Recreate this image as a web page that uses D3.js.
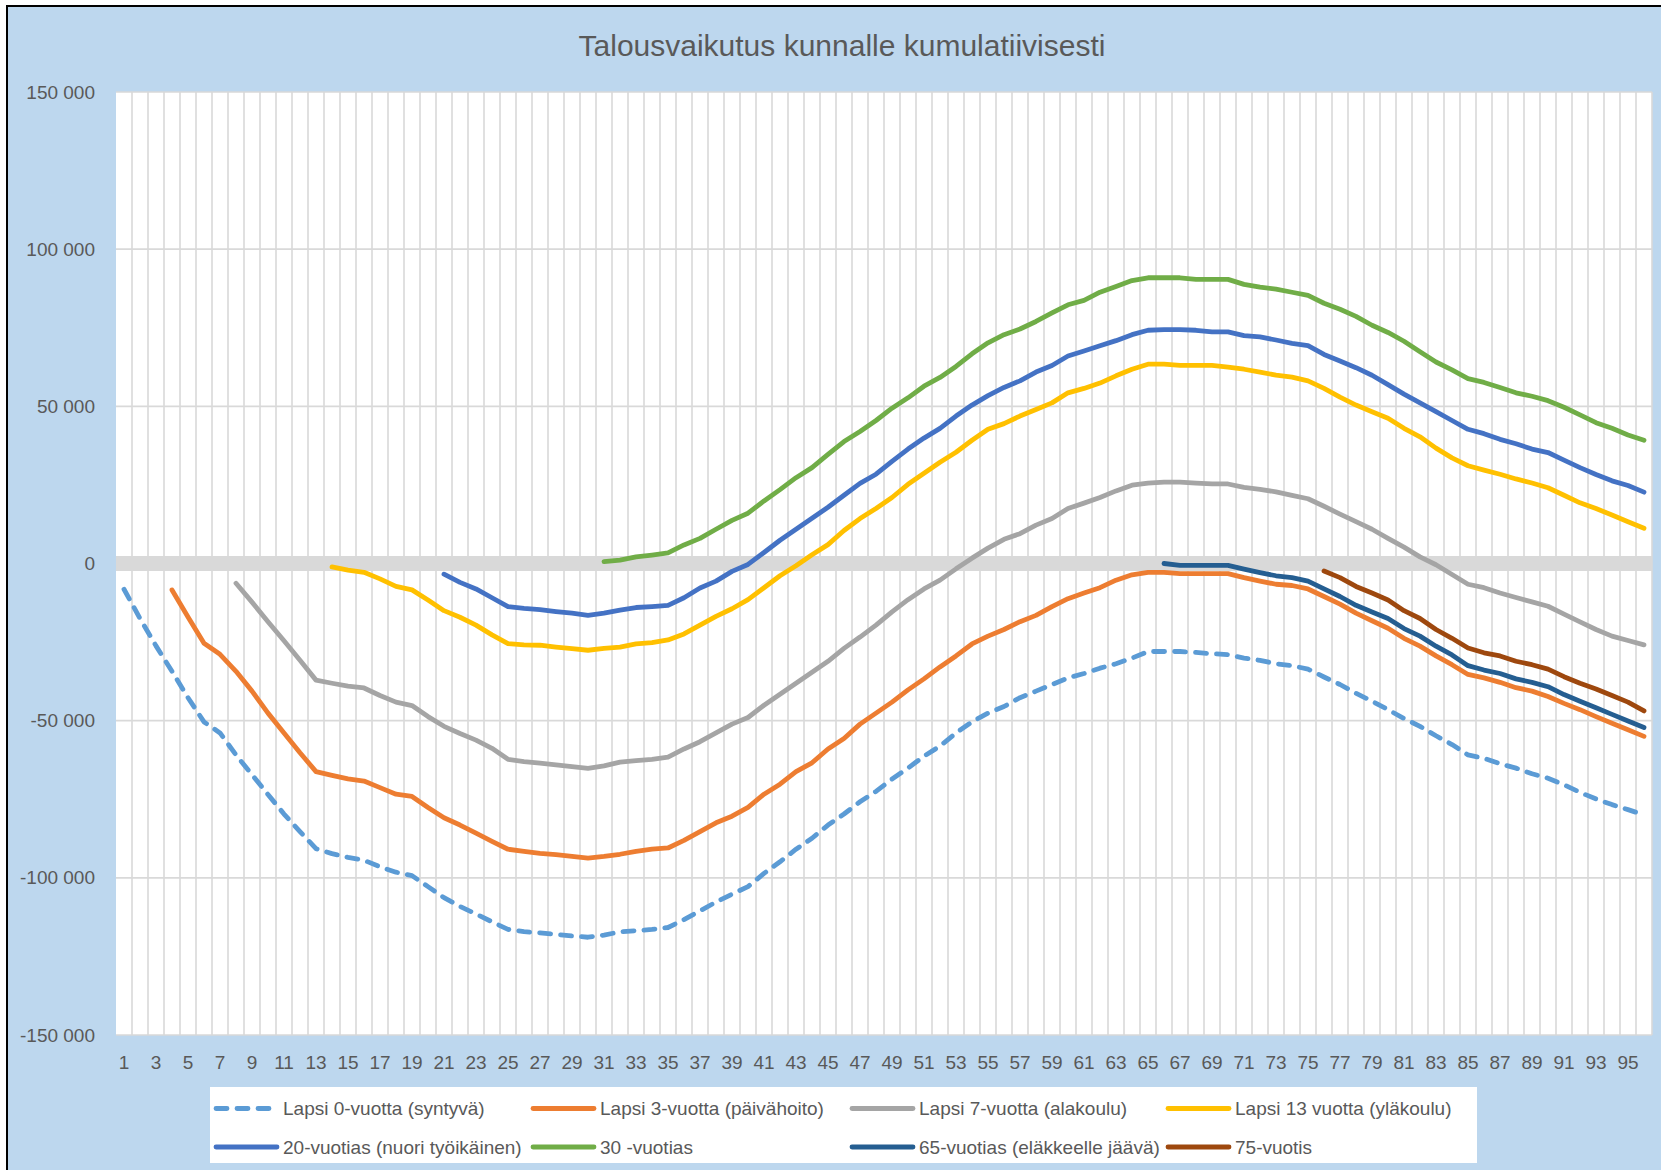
<!DOCTYPE html>
<html><head><meta charset="utf-8">
<script src="https://cdn.jsdelivr.net/npm/d3@7"></script>
<style>
body{margin:0;background:#fff}
svg{display:block}
text{font-family:"Liberation Sans",Arial,sans-serif}
</style>
</head><body>
<svg id="chart" width="1661" height="1170"></svg>
<script>
// ---------- DATA ----------
const chartTitle = "Talousvaikutus kunnalle kumulatiivisesti";
const ages = d3.range(1, 97);                 // categories 1..96
const xTickLabels = d3.range(1, 97, 2);       // 1,3,...,95
const yTicks = [-150000, -100000, -50000, 0, 50000, 100000, 150000];

const seriesNames = [
  "Lapsi 0-vuotta (syntyvä)", "Lapsi 3-vuotta (päivähoito)", "Lapsi 7-vuotta (alakoulu)", "Lapsi 13 vuotta (yläkoulu)",
  "20-vuotias (nuori työikäinen)", "30 -vuotias", "65-vuotias (eläkkeelle jäävä)", "75-vuotis"
];
const seriesColors = ["#5B9BD5", "#ED7D31", "#A5A5A5", "#FFC000", "#4472C4", "#70AD47", "#255E91", "#9E480E"];
const seriesStarts = [1, 4, 8, 14, 21, 31, 66, 76];   // first age of each series

const lapsi0 = [-8200,-17500,-26200,-34300,-42700,-50400,-53900,-60900,-67200,-73500,-79700,-85300,-90700,-92300,-93500,-94400,-96500,-98200,-99300,-102800,
  -106300,-109100,-111500,-114000,-116400,-117100,-117500,-118000,-118500,-118900,-118200,-117200,-116800,-116400,-115800,-113300,-110500,-107700,-105200,-102800,
  -98600,-94900,-90900,-87400,-83200,-79700,-75800,-72500,-68600,-65100,-61300,-58100,-53900,-50400,-47600,-45500,-42700,-40600,-38500,-36400,
  -35000,-33300,-31900,-30100,-28000,-28000,-28000,-28300,-28700,-29000,-30100,-30800,-31900,-32500,-33600,-36100,-38500,-41300,-43800,-46500,
  -49300,-51800,-54800,-57600,-60900,-62000,-63700,-65100,-66900,-68300,-70400,-72800,-74900,-76700,-78300,-80000];
const lapsi3 = [-8400,-17000,-25400,-28900,-34300,-40600,-47600,-53900,-60200,-66200,-67400,-68500,-69200,-71300,-73400,-74100,-77600,
  -80900,-83200,-85800,-88400,-90900,-91600,-92200,-92600,-93200,-93700,-93200,-92500,-91600,-90900,-90500,-88100,-85300,-82500,-80400,-77600,
  -73400,-70200,-66200,-63400,-59000,-55700,-51100,-47600,-44100,-40200,-36700,-32900,-29400,-25600,-23100,-21000,-18500,-16500,-13700,-11200,
  -9400,-7700,-5300,-3600,-2800,-2800,-3200,-3200,-3200,-3200,-4500,-5600,-6600,-7000,-8100,-10500,-12900,-15800,-18200,-20600,
  -23800,-26300,-29400,-32200,-35300,-36400,-37800,-39500,-40600,-42300,-44500,-46500,-48700,-50800,-52900,-55000];
const lapsi7 = [-6300,-12300,-18500,-24600,-30800,-37100,-38100,-39000,-39600,-42000,-44100,-45200,-48700,
  -51800,-54100,-56200,-58800,-62300,-63000,-63500,-64100,-64600,-65200,-64400,-63200,-62700,-62300,-61600,-59000,-56700,-53900,-51100,-49000,
  -45100,-41600,-38100,-34600,-31100,-27000,-23400,-19600,-15400,-11500,-8100,-5300,-1700,1700,4900,7700,9500,12200,14300,17500,
  19200,21000,23100,24900,25600,25900,25900,25600,25300,25300,24200,23600,22800,21700,20600,18200,15700,13300,10900,8000,
  5200,2100,-400,-3500,-6600,-7700,-9400,-10800,-12200,-13600,-16100,-18600,-21000,-23100,-24500,-25900];
const lapsi13 = [-1100,-2100,-2800,-4900,-7300,-8400,-11600,
  -15000,-17100,-19600,-22700,-25500,-25900,-26000,-26600,-27100,-27600,-27000,-26600,-25600,-25200,-24300,-22400,-19600,-16800,-14400,-11500,
  -7700,-3900,-700,2800,6000,10500,14300,17500,21000,25200,28700,32200,35400,39200,42700,44500,46900,49000,51100,54300,
  55700,57400,59700,61800,63400,63400,63000,63000,63000,62500,61800,60900,59900,59300,58100,55700,52900,50400,48300,46200,
  43000,40300,36700,33600,31100,29700,28400,26900,25600,24100,21700,19300,17500,15400,13300,11200];
const tyo20 = [-3400,-6000,-8100,-10900,-13700,-14300,-14700,-15300,-15800,-16500,-15800,-14800,-14000,-13700,-13300,-10900,-7800,-5600,-2500,-300,
  3500,7400,10900,14400,17900,21700,25500,28400,32500,36400,39900,43000,46900,50400,53400,56000,58100,60900,63000,66000,
  67600,69300,70900,72800,74200,74400,74400,74200,73700,73700,72500,72100,71100,70000,69300,66500,64400,62300,59900,56900,
  53900,51100,48300,45500,42700,41300,39500,38100,36400,35300,32900,30500,28300,26300,24800,22700];
const vuotias30 = [600,1100,2100,2700,3400,5900,8000,10900,13700,16000,
  19900,23500,27300,30500,34700,38800,42000,45500,49400,52700,56400,59200,62700,66700,70200,72800,74600,77000,79700,82300,
  83700,86300,88100,90000,90900,90900,90900,90400,90400,90400,88800,87900,87300,86300,85300,82800,80900,78600,75800,73500,
  70700,67400,64100,61600,58800,57600,56000,54300,53200,51800,49700,47300,44800,43000,40900,39200];
const elake65 = [0,-600,-600,-600,-600,-1800,-2900,-3900,-4500,-5600,-8100,-10500,-13300,-15400,-17500,
  -20700,-23100,-26300,-29100,-32500,-33900,-35000,-36700,-37800,-39200,-41700,-43800,-45900,-48000,-50100,-52200];
const vuotis75 = [-2400,-4500,-7300,-9400,-11600,-15000,-17500,-21000,-23800,-26900,-28400,-29400,-31100,-32200,-33600,
  -36000,-38100,-39900,-42000,-44100,-46900];

const seriesValues = [lapsi0, lapsi3, lapsi7, lapsi13, tyo20, vuotias30, elake65, vuotis75];

// ---------- LAYOUT ----------
const W = 1661, H = 1170;
const plot = {left: 116, right: 1652, top: 92, bottom: 1035};
const textColor = "#595959", gridColor = "#D9D9D9", bgColor = "#BDD7EE";
const lineW = 4.8;
const fontFam = '"Liberation Sans",Arial,sans-serif';

const svg = d3.select("#chart");

// background + frame
svg.append("rect").attr("x", 7).attr("y", 6).attr("width", W).attr("height", H).attr("fill", bgColor);
svg.append("line").attr("x1", 6).attr("x2", W).attr("y1", 6).attr("y2", 6).attr("stroke", "#000").attr("stroke-width", 2);
svg.append("line").attr("x1", 7).attr("x2", 7).attr("y1", 5).attr("y2", H).attr("stroke", "#000").attr("stroke-width", 2);

// title
svg.append("text").attr("x", 842).attr("y", 45.5).attr("dy", "0.35em")
  .attr("text-anchor", "middle").attr("font-size", 30).attr("fill", textColor).text(chartTitle);

// plot area
svg.append("rect").attr("x", plot.left).attr("y", plot.top)
  .attr("width", plot.right - plot.left).attr("height", plot.bottom - plot.top).attr("fill", "#fff");

const x = d3.scaleBand().domain(ages).range([plot.left, plot.right]).paddingInner(0).paddingOuter(0);
const xc = a => x(a) + x.bandwidth() / 2;
const y = d3.scaleLinear().domain([-150000, 150000]).range([plot.bottom, plot.top]);

// vertical gridlines (category boundaries)
svg.append("g").selectAll("line").data(ages).join("line")
  .attr("x1", a => x(a) + x.bandwidth()).attr("x2", a => x(a) + x.bandwidth())
  .attr("y1", plot.top).attr("y2", plot.bottom)
  .attr("stroke", gridColor).attr("stroke-width", 1.6);

// horizontal gridlines
svg.append("g").selectAll("line").data(yTicks.filter(t => t !== 0)).join("line")
  .attr("x1", plot.left).attr("x2", plot.right)
  .attr("y1", d => y(d)).attr("y2", d => y(d))
  .attr("stroke", gridColor).attr("stroke-width", 1.6);

// thick zero axis band
svg.append("line").attr("x1", plot.left).attr("x2", plot.right)
  .attr("y1", y(0)).attr("y2", y(0)).attr("stroke", gridColor).attr("stroke-width", 15);

// axes
const fmt = v => (v < 0 ? "-" : "") + d3.format(",")(Math.abs(v)).replace(/,/g, " ");
const yAxis = svg.append("g").attr("transform", `translate(${plot.left},0)`)
  .call(d3.axisLeft(y).tickValues(yTicks).tickFormat(fmt).tickSize(0).tickPadding(21));
yAxis.select(".domain").remove();
yAxis.selectAll("text").attr("font-size", 19).attr("fill", textColor).attr("font-family", fontFam);

const xAxis = svg.append("g").attr("transform", `translate(0,${plot.bottom})`)
  .call(d3.axisBottom(x).tickValues(xTickLabels).tickSize(0).tickPadding(21));
xAxis.select(".domain").remove();
xAxis.selectAll("text").attr("font-size", 19).attr("fill", textColor).attr("font-family", fontFam);

// series
const series = seriesNames.map((name, i) => ({
  name, color: seriesColors[i], dashed: i === 0,
  points: seriesValues[i].map((v, j) => ({age: seriesStarts[i] + j, v}))
}));

const line = d3.line().x(d => xc(d.age)).y(d => y(d.v));
svg.append("g").selectAll("path").data(series).join("path")
  .attr("d", s => line(s.points))
  .attr("fill", "none").attr("stroke", s => s.color).attr("stroke-width", lineW)
  .attr("stroke-linecap", "round").attr("stroke-linejoin", "round")
  .attr("stroke-dasharray", s => s.dashed ? "11 10" : null);

// legend
svg.append("rect").attr("x", 210).attr("y", 1087).attr("width", 1267).attr("height", 76).attr("fill", "#fff");
const legCols = [216, 533, 852, 1168], legRows = [1108.5, 1147];
const leg = svg.append("g").selectAll("g").data(series).join("g")
  .attr("transform", (s, i) => `translate(${legCols[i % 4]},${legRows[Math.floor(i / 4)]})`);
leg.append("line").attr("x1", 0).attr("x2", 61).attr("y1", 0).attr("y2", 0)
  .attr("stroke", s => s.color).attr("stroke-width", lineW).attr("stroke-linecap", "round")
  .attr("stroke-dasharray", s => s.dashed ? "11 10" : null);
leg.append("text").attr("x", 67).attr("dy", "0.35em").attr("font-size", 19).attr("fill", textColor).text(s => s.name);
</script>
</body></html>
